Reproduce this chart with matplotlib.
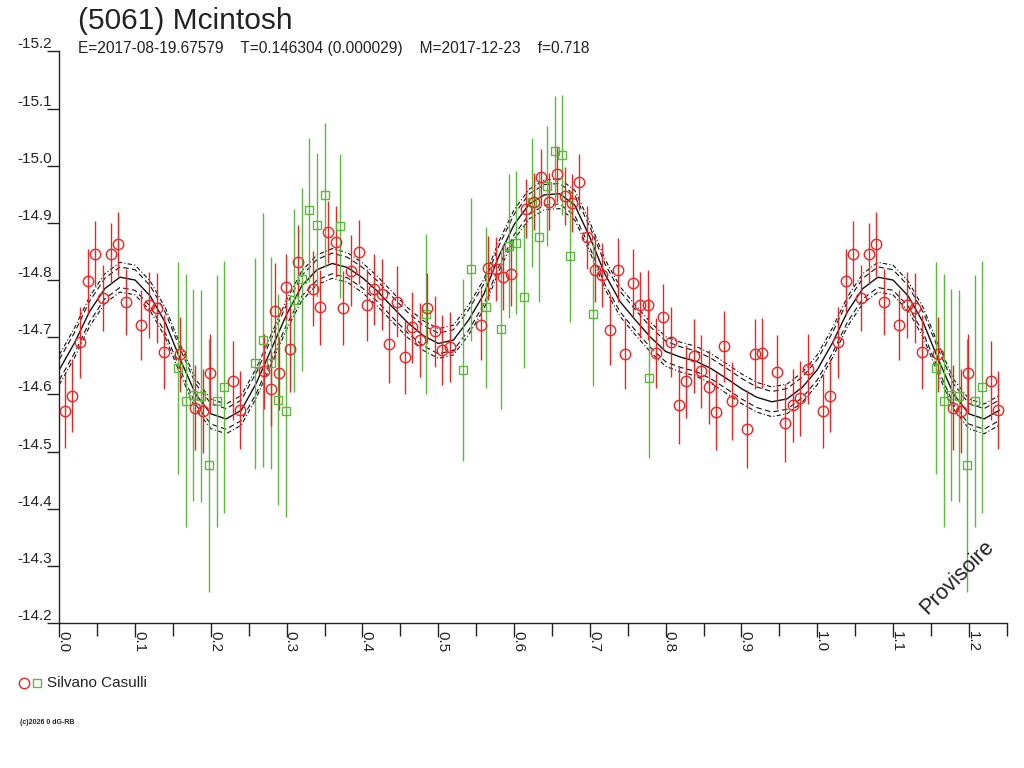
import numpy as np
import matplotlib
matplotlib.use("Agg")
import matplotlib.pyplot as plt
from matplotlib.lines import Line2D
from matplotlib.ticker import MultipleLocator

plt.rcParams['font.family'] = ['Liberation Sans', 'DejaVu Sans']
plt.rcParams['axes.unicode_minus'] = False

# --- observations: Silvano Casulli, session 1 (red circles) ---
red_phase = [0.0075, 0.017, 0.027, 0.0375, 0.0475, 0.0577, 0.0678, 0.078, 0.088, 0.108,
             0.118, 0.1285, 0.138, 0.159, 0.179, 0.189, 0.199, 0.229, 0.239, 0.2705,
             0.2797, 0.2846, 0.2894, 0.2995, 0.3048, 0.3145, 0.3343, 0.3443, 0.354, 0.3646,
             0.3747, 0.3848, 0.395, 0.4055, 0.4152, 0.4253, 0.435, 0.4455, 0.4557, 0.4657,
             0.4755, 0.4855, 0.4957, 0.505, 0.5154, 0.556, 0.566, 0.576, 0.5858, 0.5963,
             0.616, 0.626, 0.636, 0.646, 0.657, 0.6667, 0.6764, 0.686, 0.696, 0.7063,
             0.716, 0.7265, 0.7367, 0.7467, 0.7565, 0.7664, 0.7766, 0.7868, 0.797, 0.807,
             0.8172, 0.8272, 0.8373, 0.847, 0.857, 0.867, 0.877, 0.8875, 0.907, 0.9174,
             0.9275, 0.947, 0.9574, 0.9675, 0.977, 0.9877]
red_mag = [-14.571, -14.598, -14.691, -14.798, -14.846, -14.769, -14.846, -14.863, -14.762, -14.721,
           -14.756, -14.751, -14.674, -14.670, -14.577, -14.571, -14.637, -14.624, -14.572, -14.640,
           -14.609, -14.745, -14.637, -14.788, -14.679, -14.832, -14.785, -14.752, -14.884, -14.867,
           -14.751, -14.816, -14.849, -14.757, -14.784, -14.775, -14.688, -14.762, -14.665, -14.717,
           -14.695, -14.751, -14.710, -14.677, -14.683, -14.722, -14.821, -14.820, -14.805, -14.810,
           -14.925, -14.937, -14.980, -14.937, -14.986, -14.947, -14.935, -14.971, -14.875, -14.818,
           -14.808, -14.713, -14.817, -14.671, -14.795, -14.756, -14.756, -14.673, -14.735, -14.691,
           -14.582, -14.623, -14.667, -14.640, -14.613, -14.570, -14.684, -14.588, -14.540, -14.671,
           -14.672, -14.639, -14.550, -14.581, -14.593, -14.644]
red_err = [0.064, 0.064, 0.062, 0.057, 0.057, 0.058, 0.053, 0.056, 0.058, 0.061,
           0.058, 0.061, 0.065, 0.065, 0.074, 0.074, 0.068, 0.069, 0.068, 0.065,
           0.065, 0.085, 0.064, 0.058, 0.074, 0.064, 0.066, 0.066, 0.054, 0.062,
           0.065, 0.062, 0.056, 0.063, 0.062, 0.062, 0.068, 0.062, 0.065, 0.062,
           0.064, 0.061, 0.062, 0.061, 0.061, 0.062, 0.056, 0.056, 0.058, 0.055,
           0.051, 0.050, 0.050, 0.050, 0.049, 0.050, 0.051, 0.049, 0.055, 0.057,
           0.056, 0.062, 0.056, 0.062, 0.060, 0.058, 0.061, 0.061, 0.058, 0.061,
           0.068, 0.064, 0.065, 0.064, 0.065, 0.068, 0.062, 0.068, 0.068, 0.061,
           0.061, 0.064, 0.068, 0.064, 0.065, 0.061]

# --- observations: session 2 (green squares) ---
green_phase = [0.157, 0.167, 0.177, 0.187, 0.1975, 0.2077, 0.2177, 0.258, 0.2687, 0.2793,
               0.289, 0.2995, 0.3096, 0.32, 0.33, 0.3396, 0.350, 0.370, 0.4838, 0.5326,
               0.5427, 0.563, 0.583, 0.5933, 0.603, 0.613, 0.623, 0.633, 0.6434, 0.6535,
               0.6636, 0.6737, 0.704, 0.778]
green_mag = [-14.646, -14.589, -14.599, -14.597, -14.476, -14.588, -14.613, -14.654, -14.695, -14.655,
             -14.591, -14.571, -14.765, -14.801, -14.923, -14.897, -14.948, -14.895, -14.740, -14.643,
             -14.819, -14.752, -14.714, -14.860, -14.865, -14.771, -14.936, -14.875, -14.964, -15.025,
             -15.019, -14.842, -14.741, -14.629]
green_err = [0.185, 0.221, 0.185, 0.185, 0.221, 0.220, 0.221, 0.185, 0.222, 0.185,
             0.185, 0.185, 0.160, 0.160, 0.126, 0.126, 0.126, 0.126, 0.140, 0.159,
             0.125, 0.140, 0.140, 0.126, 0.125, 0.125, 0.113, 0.113, 0.105, 0.097,
             0.105, 0.116, 0.126, 0.140]

# --- fitted lightcurve (sampled) ---
curve_phase = [0.00, 0.02, 0.04, 0.06, 0.08, 0.10, 0.12, 0.14, 0.16, 0.18,
               0.20, 0.22, 0.24, 0.26, 0.28, 0.30, 0.32, 0.34, 0.36, 0.38,
               0.40, 0.42, 0.44, 0.46, 0.48, 0.50, 0.52, 0.54, 0.56, 0.58,
               0.60, 0.62, 0.64, 0.66, 0.68, 0.70, 0.72, 0.74, 0.76, 0.78,
               0.80, 0.82, 0.84, 0.86, 0.88, 0.90, 0.92, 0.94, 0.96, 0.98, 1.00]
curve_mag = [-14.643, -14.690, -14.745, -14.785, -14.805, -14.800, -14.772, -14.725, -14.660, -14.600,
             -14.566, -14.557, -14.572, -14.620, -14.680, -14.740, -14.790, -14.818, -14.829, -14.822,
             -14.804, -14.780, -14.752, -14.725, -14.703, -14.689, -14.695, -14.730, -14.775, -14.842,
             -14.897, -14.933, -14.949, -14.951, -14.931, -14.875, -14.810, -14.762, -14.730, -14.700,
             -14.675, -14.665, -14.658, -14.645, -14.628, -14.610, -14.595, -14.587, -14.592, -14.612, -14.643]
band_inner = 0.018
band_outer = 0.026

title = "(5061) Mcintosh"
subtitle = "E=2017-08-19.67579    T=0.146304 (0.000029)    M=2017-12-23    f=0.718"
observer = "Silvano Casulli"

PH_MAX = 1.2507
RED = '#ee2424'
GREEN = '#5cb83c'
INK = '#222222'


def wrap(ph, *cols):
    # phases below 0.25 are repeated after 1.0
    ph = np.asarray(ph)
    extra = ph + 1.0 < PH_MAX
    out = [np.concatenate([ph, ph[extra] + 1.0])]
    for c in cols:
        c = np.asarray(c)
        out.append(np.concatenate([c, c[extra]]))
    return out


fig = plt.figure(figsize=(10.24, 7.68), dpi=100)
ax = fig.add_axes([59.3 / 1024, 1 - 623 / 768, 948 / 1024, 571.6 / 768])

cp, cm = wrap(curve_phase[:-1], curve_mag[:-1])
order = np.argsort(cp)
cp, cm = cp[order], cm[order]
ax.plot(cp, cm, color='#111111', lw=1.0, zorder=2)
for sgn in (-1, 1):
    ax.plot(cp, cm + sgn * band_inner, color='#111111', lw=0.8, ls=(0, (5, 3)), zorder=2)
    ax.plot(cp, cm + sgn * band_outer, color='#111111', lw=0.8, ls=(0, (4, 2, 1, 2)), zorder=2)

gp, gm, ge = wrap(green_phase, green_mag, green_err)
ax.errorbar(gp, gm, yerr=ge, fmt='none', ecolor=GREEN, elinewidth=1.0, capsize=0, zorder=3)
ax.plot(gp, gm, ls='none', marker='s', ms=5.5, mfc='none', mec=GREEN, mew=1.0, zorder=4)

rp, rm, re = wrap(red_phase, red_mag, red_err)
ax.errorbar(rp, rm, yerr=re, fmt='none', ecolor=RED, elinewidth=1.0, capsize=0, zorder=3)
ax.plot(rp, rm, ls='none', marker='o', ms=7.5, mfc='none', mec=RED, mew=1.0, zorder=4)

ax.set_xlim(0, PH_MAX)
ax.set_ylim(-14.2, -15.2)
for s in ('top', 'right'):
    ax.spines[s].set_visible(False)
for s in ('left', 'bottom'):
    ax.spines[s].set_color(INK)
    ax.spines[s].set_linewidth(1.0)

yt = np.round(np.arange(-15.2, -14.15, 0.1), 1)
ax.set_yticks(yt)
ax.set_yticklabels(['%.1f' % v for v in yt], va='bottom', fontsize=11, color=INK)
xt = np.round(np.arange(0, 1.25, 0.1), 1)
ax.set_xticks(xt)
ax.set_xticklabels(['%.1f' % v for v in xt], rotation=270, ha='left', va='baseline',
                   rotation_mode='anchor', fontsize=11, color=INK)
ax.xaxis.set_minor_locator(MultipleLocator(0.05))
ax.tick_params(axis='y', direction='out', length=9, width=1, pad=-4, colors=INK)
ax.tick_params(axis='x', which='major', direction='out', length=10, width=1, pad=-4, colors=INK)
ax.tick_params(axis='x', which='minor', direction='out', length=9, width=1, colors=INK)

fig.text(78 / 1024, 1 - 21 / 768, title, fontsize=21.5, va='center', ha='left', color=INK)
fig.text(78 / 1024, 1 - 49 / 768, subtitle, fontsize=11.2, va='center', ha='left', color=INK)

fig.add_artist(Line2D([24 / 1024], [1 - 683 / 768], marker='o', ms=7.5, mfc='none',
                      mec=RED, mew=1.0, transform=fig.transFigure))
fig.add_artist(Line2D([37 / 1024], [1 - 683 / 768], marker='s', ms=5.5, mfc='none',
                      mec=GREEN, mew=1.0, transform=fig.transFigure))
fig.text(47 / 1024, 1 - 683 / 768, observer, fontsize=11, va='center', ha='left', color=INK)
fig.text(20 / 1024, 1 - 723 / 768, "(c)2026 0 dG-RB", fontsize=5, fontweight='bold',
         va='center', ha='left', color=INK)

fig.text(957 / 1024, 1 - 577 / 768, "Provisoire", rotation=45, fontsize=15.5,
         ha='center', va='center', color=INK)

fig.savefig('out.png', dpi=100)
